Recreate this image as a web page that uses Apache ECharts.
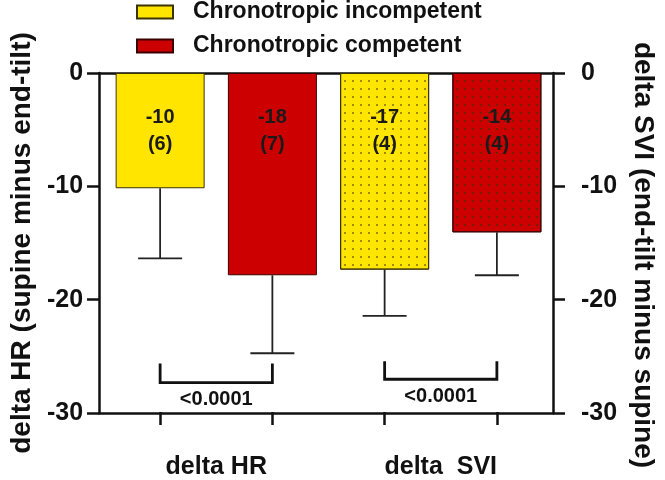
<!DOCTYPE html>
<html><head><meta charset="utf-8">
<script src="https://cdn.jsdelivr.net/npm/echarts@6/dist/echarts.min.js"></script>
<style>html,body{margin:0;padding:0;background:#fff}#c{width:665px;height:480px}</style>
</head><body><div id="c"></div>
<script>
// ---- data ----
const groups = ['delta HR', 'delta  SVI'];
const seriesNames = ['Chronotropic incompetent', 'Chronotropic competent'];
const incompetentMean = [-10.2, -17.4];
const incompetentLower = [-16.4, -21.5];
const incompetentN = [6, 4];
const competentMean = [-17.9, -14.1];
const competentLower = [-24.8, -17.9];
const competentN = [7, 4];
const pValues = ['<0.0001', '<0.0001'];
const bracketTop = [-25.7, -25.5];
const bracketBottom = [-27.4, -27.1];
const leftAxisTitle = 'delta HR (supine minus end-tilt)';
const rightAxisTitle = 'delta SVI (end-tilt minus supine)';
const yMin = -30, yMax = 0, yStep = 10;

// ---- styling ----
const FONT = '"Liberation Sans", Arial, Helvetica, sans-serif';
const INK = '#111';
const YELLOW = '#FFE500';
const RED = '#CC0000';
const slots = ['s0', 's1', 's2', 's3']; // bar positions: group*2 + (0 incompetent, 1 competent)

function dotDecal(c) {
  return { symbol: 'rect', symbolSize: 1, dashArrayX: [1.6, 5.6], dashArrayY: [1.6, 5.1], rotation: 0, color: c };
}
function barData(means, ns, offset, dotColor) {
  const arr = slots.map(() => '-');
  means.forEach((m, g) => {
    const item = { value: m, n: ns[g] };
    if (g === 1) item.itemStyle = { decal: dotDecal(dotColor) };
    arr[g * 2 + offset] = item;
  });
  return arr;
}
const errData = [];
incompetentMean.forEach((m, g) => errData.push([g * 2, m, incompetentLower[g]]));
competentMean.forEach((m, g) => errData.push([g * 2 + 1, m, competentLower[g]]));
const bracketData = pValues.map((p, g) => [g * 2, g * 2 + 1, bracketTop[g], bracketBottom[g], p]);

const barLabel = {
  show: true, position: 'insideTop', distance: 31,
  fontSize: 20, fontWeight: 'bold', fontFamily: FONT, color: '#1a1a1a', lineHeight: 27,
  formatter: p => Math.round(p.data.value) + '\n(' + p.data.n + ')'
};

const axisLineStyle = { color: INK, width: 2.5 };
const chart = echarts.init(document.getElementById('c'));
chart.setOption({
  animation: false,
  backgroundColor: '#fff',
  textStyle: { fontFamily: FONT },
  legend: {
    data: seriesNames, orient: 'vertical', left: 136, top: 0, padding: 0,
    itemWidth: 36, itemHeight: 13, itemGap: 10, icon: 'rect',
    textStyle: { fontSize: 23, fontWeight: 'bold', color: INK, fontFamily: FONT, padding: [0, 0, 0, 15], lineHeight: 24 }
  },
  grid: [
    { left: 93, right: 100, top: 73, bottom: 67 },
    { left: 104, right: 112, top: 73, bottom: 67 }
  ],
  xAxis: [
    { gridIndex: 0, type: 'value', min: 0, max: 1, position: 'bottom',
      axisLine: { show: true, onZero: false, lineStyle: axisLineStyle }, axisTick: { show: false }, axisLabel: { show: false }, splitLine: { show: false } },
    { gridIndex: 0, type: 'value', min: 0, max: 1, position: 'top',
      axisLine: { show: true, onZero: false, lineStyle: axisLineStyle }, axisTick: { show: false }, axisLabel: { show: false }, splitLine: { show: false } },
    { gridIndex: 1, type: 'category', data: slots, position: 'bottom',
      axisLine: { show: false, onZero: false }, axisTick: { show: true, alignWithLabel: true, length: 13, lineStyle: axisLineStyle },
      axisLabel: { show: false }, splitLine: { show: false } },
    { gridIndex: 1, type: 'category', data: groups, position: 'bottom',
      axisLine: { show: false, onZero: false }, axisTick: { show: false },
      axisLabel: { show: true, margin: 43, fontSize: 25, fontWeight: 'bold', color: INK, fontFamily: FONT }, splitLine: { show: false } }
  ],
  yAxis: [
    { gridIndex: 0, type: 'value', position: 'left', min: yMin, max: yMax, interval: yStep,
      axisLine: { show: true, onZero: false, lineStyle: axisLineStyle },
      axisTick: { show: true, inside: false, length: 12, lineStyle: axisLineStyle },
      axisLabel: { margin: 16, fontSize: 25, fontWeight: 'bold', color: INK, fontFamily: FONT },
      splitLine: { show: false },
      name: leftAxisTitle, nameLocation: 'middle', nameRotate: 90, nameGap: 60,
      nameTextStyle: { fontSize: 28, fontWeight: 'bold', color: INK, fontFamily: FONT } },
    { gridIndex: 0, type: 'value', position: 'right', min: yMin, max: yMax, interval: yStep,
      axisLine: { show: true, onZero: false, lineStyle: axisLineStyle },
      axisTick: { show: true, inside: false, length: 12, lineStyle: axisLineStyle },
      axisLabel: { margin: 28, fontSize: 25, fontWeight: 'bold', color: INK, fontFamily: FONT },
      splitLine: { show: false },
      name: rightAxisTitle, nameLocation: 'middle', nameRotate: -90, nameGap: 76,
      nameTextStyle: { fontSize: 28, fontWeight: 'bold', color: INK, fontFamily: FONT, padding: [0, 0, 0, 24] } },
    { gridIndex: 1, type: 'value', min: yMin, max: yMax, show: false }
  ],
  series: [
    { name: seriesNames[0], type: 'bar', xAxisIndex: 2, yAxisIndex: 2, barWidth: 89, barGap: '-100%',
      itemStyle: { color: YELLOW, borderColor: '#3b3300', borderWidth: 1 },
      label: barLabel,
      data: barData(incompetentMean, incompetentN, 0, 'rgba(120,100,0,0.7)') },
    { name: seriesNames[1], type: 'bar', xAxisIndex: 2, yAxisIndex: 2, barWidth: 89, barGap: '-100%',
      itemStyle: { color: RED, borderColor: '#3a0000', borderWidth: 1 },
      label: barLabel,
      data: barData(competentMean, competentN, 1, 'rgba(90,40,0,0.75)') },
    { type: 'custom', xAxisIndex: 2, yAxisIndex: 2, encode: { x: 0, y: [1, 2] }, silent: true, z: 3,
      renderItem: (params, api) => {
        const x = api.value(0);
        const p1 = api.coord([x, api.value(1)]);
        const p2 = api.coord([x, api.value(2)]);
        const st = { stroke: '#222', lineWidth: 1.8 };
        return { type: 'group', children: [
          { type: 'line', shape: { x1: p1[0], y1: p1[1], x2: p2[0], y2: p2[1] }, style: st },
          { type: 'line', shape: { x1: p2[0] - 22, y1: p2[1], x2: p2[0] + 22, y2: p2[1] }, style: st }
        ] };
      },
      data: errData },
    { type: 'custom', xAxisIndex: 2, yAxisIndex: 2, encode: { x: [0, 1], y: [2, 3] }, silent: true, z: 3,
      renderItem: (params, api) => {
        const a = api.coord([api.value(0), api.value(2)]);
        const b = api.coord([api.value(0), api.value(3)]);
        const c = api.coord([api.value(1), api.value(3)]);
        const d = api.coord([api.value(1), api.value(2)]);
        return { type: 'group', children: [
          { type: 'polyline', shape: { points: [a, b, c, d] }, style: { stroke: INK, lineWidth: 2.8, fill: null } },
          { type: 'text', style: { text: bracketData[params.dataIndex][4], x: (b[0] + c[0]) / 2, y: b[1] + 17,
              align: 'center', verticalAlign: 'middle', fontSize: 20, fontWeight: 'bold', fontFamily: FONT, fill: INK } }
        ] };
      },
      data: bracketData }
  ]
});
</script></body></html>
